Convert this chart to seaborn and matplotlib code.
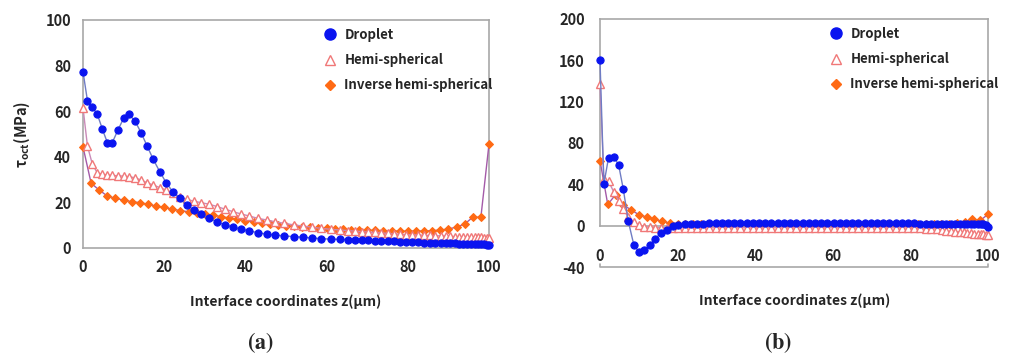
import matplotlib
matplotlib.use("Agg")
import matplotlib.pyplot as plt
from matplotlib.lines import Line2D
import seaborn as sns

# ------------------- Data -------------------

series_names = ["Droplet", "Hemi-spherical", "Inverse hemi-spherical"]

# panel (a): droplet / hemi share one mesh, inverse uses a 2 um mesh
xa_mesh = [0, 1.1, 2.3, 3.5, 4.8, 6.0, 7.2, 8.6, 10.0, 11.3, 12.8, 14.3, 15.8, 17.3,
           18.9, 20.5, 22.1, 23.8, 25.5, 27.3, 29.1, 31.0, 33.0, 35.0, 37.0, 39.0,
           41.0, 43.1, 45.2, 47.3, 49.6, 52.0, 54.3, 56.5, 58.7, 61.0, 63.2, 65.3,
           67.0, 68.6, 70.2, 71.8, 73.4, 75.0, 76.5, 78.0, 79.5, 81.0, 82.5, 84.0,
           85.4, 86.8, 88.1, 89.3, 90.5, 91.6, 92.7, 93.7, 94.7, 95.6, 96.5, 97.3,
           98.1, 98.8, 99.4, 100]
droplet_a = [77.3, 64.6, 61.7, 58.8, 52.0, 46.2, 46.2, 51.7, 56.9, 58.6, 55.7, 50.6,
             44.7, 38.9, 33.5, 28.6, 24.7, 21.8, 18.9, 16.7, 14.9, 13.0, 11.5, 10.1,
             9.1, 8.2, 7.5, 6.7, 6.1, 5.7, 5.3, 5.0, 4.7, 4.4, 4.1, 3.9, 3.8, 3.6,
             3.5, 3.4, 3.3, 3.2, 3.1, 3.0, 2.9, 2.8, 2.7, 2.6, 2.5, 2.4, 2.3, 2.2,
             2.2, 2.1, 2.0, 2.0, 1.9, 1.9, 1.8, 1.8, 1.7, 1.7, 1.6, 1.6, 1.5, 1.5]
hemi_a = [61.5, 44.7, 36.8, 33.0, 32.3, 32.0, 31.8, 31.7, 31.5, 31.3, 30.8, 29.8,
          28.6, 27.6, 26.5, 25.4, 24.3, 22.5, 21.4, 20.5, 19.9, 19.2, 18.2, 17.0,
          15.9, 14.9, 14.0, 13.0, 12.3, 11.5, 10.8, 10.1, 9.6, 9.1, 8.6, 8.2, 7.9,
          7.6, 7.4, 7.2, 7.0, 6.8, 6.6, 6.4, 6.2, 6.0, 5.9, 5.8, 5.7, 5.6, 5.5,
          5.4, 5.3, 5.2, 5.1, 5.0, 5.0, 4.9, 4.9, 4.8, 4.8, 4.7, 4.7, 4.6, 4.6, 4.5]
xa_inv = [0, 2, 4, 6, 8, 10, 12, 14, 16, 18, 20, 22, 24, 26, 28, 30, 32, 34, 36, 38,
          40, 42, 44, 46, 48, 50, 52, 54, 56, 58, 60, 62, 64, 66, 68, 70, 72, 74,
          76, 78, 80, 82, 84, 86, 88, 90, 92, 94, 96, 98, 100]
inverse_a = [44.4, 28.4, 25.4, 22.8, 21.8, 21.0, 20.3, 19.9, 19.2, 18.4, 17.8, 17.0,
             16.4, 15.9, 15.4, 15.0, 14.4, 13.8, 13.2, 12.6, 12.0, 11.4, 10.9, 10.5,
             10.1, 9.8, 9.5, 9.2, 9.0, 8.8, 8.6, 8.4, 8.2, 8.0, 7.9, 7.8, 7.7, 7.6,
             7.5, 7.4, 7.4, 7.4, 7.5, 7.6, 7.9, 8.3, 9.2, 10.5, 13.5, 13.5, 45.6]

# panel (b)
xb_mesh = [0, 1.0, 2.2, 3.5, 4.8, 6.0, 7.3, 8.7, 10.0, 11.4, 12.8, 14.2, 15.7, 17.2,
           18.7, 20.2, 21.8, 23.4, 25.0, 26.6, 28.2, 29.8, 31.4, 33.0, 34.6, 36.2,
           37.8, 39.4, 41.0, 42.6, 44.2, 45.8, 47.4, 49.0, 50.6, 52.2, 53.8, 55.4,
           57.0, 58.6, 60.2, 61.8, 63.4, 65.0, 66.6, 68.2, 69.8, 71.4, 73.0, 74.6,
           76.2, 77.8, 79.4, 81.0, 82.5, 84.0, 85.4, 86.8, 88.1, 89.3, 90.5, 91.6,
           92.7, 93.7, 94.7, 95.6, 96.5, 97.3, 98.1, 98.8, 99.4, 100]
droplet_b = [160, 40.2, 65.8, 66.8, 58.8, 35.4, 4.2, -18.3, -25.4, -24.0, -19.0,
             -12.8, -7.0, -3.9, -0.6, 1.0, 1.6, 1.9, 2.0, 2.0, 2.1, 2.1, 2.1, 2.2,
             2.2, 2.2, 2.2, 2.2, 2.2, 2.2, 2.2, 2.2, 2.2, 2.2, 2.2, 2.2, 2.2, 2.2,
             2.2, 2.2, 2.2, 2.2, 2.2, 2.2, 2.2, 2.2, 2.2, 2.2, 2.1, 2.1, 2.1, 2.1,
             2.1, 2.1, 2.0, 2.0, 2.0, 2.0, 2.0, 2.0, 2.0, 2.0, 2.0, 2.0, 1.9, 1.9,
             1.9, 1.8, 1.7, 1.5, 0.5, -1.0]
hemi_b = [137, 45, 43, 33, 24, 16, 8, 3.5, 0.5, -1.0, -1.5, -2.0, -2.0, -2.0, -2.0,
          -2.0, -2.0, -2.0, -2.0, -2.0, -2.0, -2.0, -2.0, -2.0, -2.0, -2.0, -2.0,
          -2.0, -2.0, -2.0, -2.0, -2.0, -2.0, -2.0, -2.0, -2.0, -2.0, -2.0, -2.0,
          -2.0, -2.0, -2.0, -2.0, -2.0, -2.0, -2.0, -2.0, -2.0, -2.0, -2.0, -2.0,
          -2.0, -2.2, -2.4, -2.6, -2.8, -3.0, -3.0, -4.0, -5.5, -5.5, -6.0, -6.0,
          -6.5, -7.0, -7.0, -8.0, -8.5, -8.0, -8.5, -9.0, -9.5]
xb_inv = xa_inv
inverse_b = [63, 20.5, 30, 20, 15.4, 10.6, 8.4, 6.4, 4.1, 2.6, 2.0, 1.8, 1.6, 1.5,
             1.5, 1.5, 1.5, 1.5, 1.5, 1.5, 1.5, 1.5, 1.5, 1.5, 1.5, 1.5, 1.5, 1.5,
             1.5, 1.5, 1.5, 1.5, 1.5, 1.5, 1.5, 1.5, 1.5, 1.5, 1.5, 1.6, 1.6, 1.7,
             1.8, 1.9, 2.0, 2.0, 3.0, 4.0, 6.0, 5.0, 11.0]

xa_ticks = [0, 20, 40, 60, 80, 100]
ya_ticks = [0, 20, 40, 60, 80, 100]
yb_ticks = [-40, 0, 40, 80, 120, 160, 200]

# ------------------- Style -------------------

sns.set_style("white")
plt.rcParams["font.family"] = ["Noto Sans CJK KR", "DejaVu Sans"]
plt.rcParams["font.weight"] = "bold"
plt.rcParams["mathtext.fontset"] = "stix"
plt.rcParams["axes.unicode_minus"] = False

BLUE = "#0a14f0"
PINK = "#f07878"
ORANGE = "#ff6a14"
SPINE = "#a8a8a8"

styles = [
    dict(marker="o", markersize=5.2, markerfacecolor=BLUE, markeredgecolor=BLUE,
         color="#6f7cc4", linewidth=1.0),
    dict(marker="^", markersize=6.0, markerfacecolor="white", markeredgecolor=PINK,
         markeredgewidth=1.0, color="#c98ab8", linewidth=1.0),
    dict(marker="D", markersize=4.4, markerfacecolor=ORANGE, markeredgecolor=ORANGE,
         color="#a45aa8", linewidth=1.0),
]


def draw_series(ax, xs, ys):
    order = [2, 1, 0]
    for i in order:
        sns.lineplot(x=xs[i], y=ys[i], ax=ax, sort=False, estimator=None,
                     clip_on=False, zorder=3 + (2 - i), **styles[i])


def add_legend(ax, anchor):
    handles = [
        Line2D([], [], linestyle="none", marker="o", markersize=8,
               markerfacecolor=BLUE, markeredgecolor=BLUE),
        Line2D([], [], linestyle="none", marker="^", markersize=7.5,
               markerfacecolor="white", markeredgecolor=PINK, markeredgewidth=1.0),
        Line2D([], [], linestyle="none", marker="D", markersize=5.5,
               markerfacecolor=ORANGE, markeredgecolor=ORANGE),
    ]
    ax.legend(handles, series_names, loc="upper left", bbox_to_anchor=anchor,
              frameon=False, fontsize=9.5, handlelength=1.0, handletextpad=0.6,
              labelspacing=0.85, borderpad=0, borderaxespad=0)


fig = plt.figure(figsize=(10.11, 3.58), dpi=100)

# ------------------- Panel (a) -------------------
ax1 = fig.add_axes([83 / 1011, 1 - 248 / 358, 406 / 1011, 228 / 358])
draw_series(ax1, [xa_mesh, xa_mesh, xa_inv], [droplet_a, hemi_a, inverse_a])
ax1.set_xlim(0, 100)
ax1.set_ylim(0, 100)
ax1.set_xticks(xa_ticks)
ax1.set_yticks(ya_ticks)
for s in ax1.spines.values():
    s.set_color(SPINE)
    s.set_linewidth(1.2)
ax1.tick_params(axis="x", direction="in", length=6, width=1, color="#777777",
                pad=8, labelsize=10.5)
ax1.tick_params(axis="y", direction="inout", length=11, width=1, color="#777777",
                pad=3, labelsize=10.5)
ax1.set_xlabel("Interface coordinates z(\u00b5m)", fontsize=10, fontweight="bold",
               labelpad=14)
ax1.set_ylabel(r"$\mathregular{\tau_{oct}}$(MPa)", fontsize=10.5, fontweight="bold",
               labelpad=10)
add_legend(ax1, (0.592, 0.965))

# ------------------- Panel (b) -------------------
ax2 = fig.add_axes([600 / 1011, 1 - 267 / 358, 388 / 1011, 248 / 358])
draw_series(ax2, [xb_mesh, xb_mesh, xb_inv], [droplet_b, hemi_b, inverse_b])
ax2.set_xlim(0, 100)
ax2.set_ylim(-40, 200)
ax2.set_xticks(xa_ticks)
ax2.set_yticks(yb_ticks)
for s in ax2.spines.values():
    s.set_color(SPINE)
    s.set_linewidth(1.2)
ax2.spines["bottom"].set_position(("data", 0))
ax2.spines["left"].set_bounds(0, 200)
ax2.spines["right"].set_bounds(0, 200)
# bracket-like base line at -40
ax2.plot([0, 0, 100, 100], [-37, -40, -40, -37], color=SPINE, linewidth=1.2,
         clip_on=False, zorder=1)
ax2.tick_params(axis="x", direction="inout", length=8, width=1, color="#777777",
                pad=12, labelsize=10.5)
ax2.tick_params(axis="y", direction="inout", length=8, width=1, color="#777777",
                pad=7, labelsize=10.5)
ax2.set_xlabel("")
ax2.set_ylabel("")
fig.text(795 / 1011, 1 - 301 / 358, "Interface coordinates z(\u00b5m)", ha="center",
         va="center", fontsize=10, fontweight="bold")
add_legend(ax2, (0.591, 0.968))

# ------------------- Panel captions -------------------
fig.text(260 / 1011, 1 - 343 / 358, r"$(\mathbf{a})$", ha="center", va="center",
         fontsize=16)
fig.text(778 / 1011, 1 - 343 / 358, r"$(\mathbf{b})$", ha="center", va="center",
         fontsize=16)

fig.savefig("out.png", dpi=100, facecolor="white")
